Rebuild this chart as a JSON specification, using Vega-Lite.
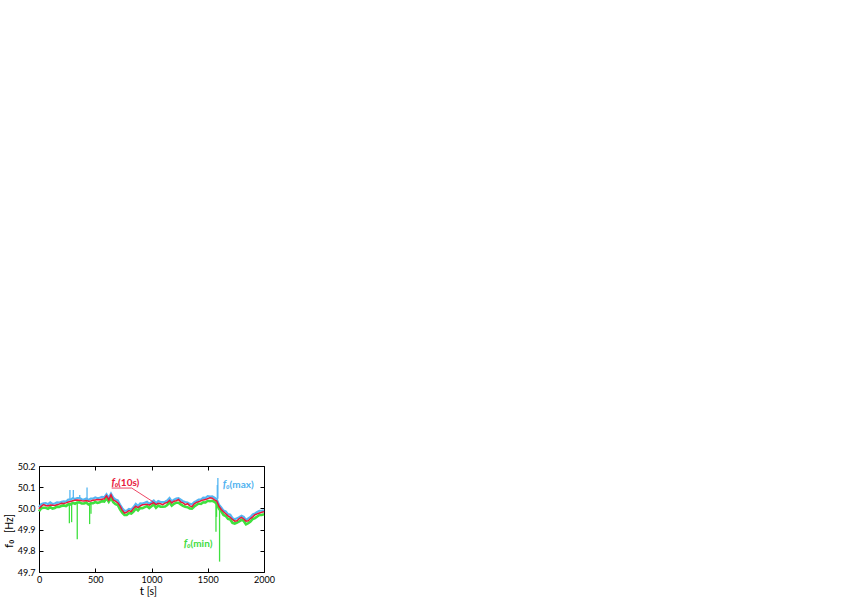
{
  "$schema": "https://vega.github.io/schema/vega-lite/v6.json",
  "width": 225,
  "height": 106,
  "autosize": {"type": "none"},
  "padding": {"left": 39, "top": 466, "right": 583, "bottom": 27},
  "background": "white",
  "config": {
    "view": {"stroke": "#000", "strokeWidth": 1},
    "axis": {"labelFont": "Lato", "labelFontSize": 9, "labelColor": "#000", "tickColor": "#000", "domain": false, "grid": false, "tickSize": -4, "labelPadding": 9, "labelFlush": false},
    "text": {"font": "Lato"}
  },
  "datasets": {
    "avg": [
      {"t":0,"f":49.998},{"t":20,"f":50.010},{"t":40,"f":50.018},{"t":60,"f":50.014},{"t":80,"f":50.012},{"t":100,"f":50.016},{"t":120,"f":50.015},{"t":140,"f":50.014},{"t":160,"f":50.017},{"t":180,"f":50.020},
      {"t":200,"f":50.024},{"t":220,"f":50.023},{"t":240,"f":50.026},{"t":260,"f":50.030},{"t":280,"f":50.033},{"t":300,"f":50.036},{"t":320,"f":50.038},{"t":340,"f":50.040},{"t":360,"f":50.038},{"t":380,"f":50.036},
      {"t":400,"f":50.035},{"t":420,"f":50.037},{"t":440,"f":50.034},{"t":460,"f":50.035},{"t":480,"f":50.038},{"t":500,"f":50.040},{"t":520,"f":50.042},{"t":540,"f":50.041},{"t":560,"f":50.043},{"t":580,"f":50.045},
      {"t":600,"f":50.060},{"t":620,"f":50.040},{"t":640,"f":50.064},{"t":660,"f":50.040},{"t":680,"f":50.034},{"t":700,"f":50.026},{"t":720,"f":50.012},{"t":740,"f":49.992},{"t":760,"f":49.978},{"t":780,"f":49.982},
      {"t":800,"f":49.990},{"t":820,"f":49.985},{"t":840,"f":50.000},{"t":860,"f":50.010},{"t":880,"f":50.004},{"t":900,"f":50.012},{"t":920,"f":50.017},{"t":940,"f":50.018},{"t":960,"f":50.020},{"t":980,"f":50.015},
      {"t":1000,"f":50.022},{"t":1020,"f":50.027},{"t":1040,"f":50.018},{"t":1060,"f":50.024},{"t":1080,"f":50.022},{"t":1100,"f":50.018},{"t":1120,"f":50.025},{"t":1140,"f":50.028},{"t":1160,"f":50.038},{"t":1180,"f":50.026},
      {"t":1200,"f":50.034},{"t":1220,"f":50.036},{"t":1240,"f":50.042},{"t":1260,"f":50.030},{"t":1280,"f":50.026},{"t":1300,"f":50.018},{"t":1320,"f":50.022},{"t":1340,"f":50.012},{"t":1360,"f":50.008},{"t":1380,"f":50.022},
      {"t":1400,"f":50.028},{"t":1420,"f":50.032},{"t":1440,"f":50.036},{"t":1460,"f":50.040},{"t":1480,"f":50.042},{"t":1500,"f":50.046},{"t":1520,"f":50.050},{"t":1540,"f":50.048},{"t":1560,"f":50.040},{"t":1580,"f":50.035},
      {"t":1600,"f":50.010},{"t":1620,"f":49.995},{"t":1640,"f":49.984},{"t":1660,"f":49.975},{"t":1680,"f":49.965},{"t":1700,"f":49.958},{"t":1720,"f":49.948},{"t":1740,"f":49.940},{"t":1760,"f":49.942},{"t":1780,"f":49.952},
      {"t":1800,"f":49.958},{"t":1820,"f":49.950},{"t":1840,"f":49.940},{"t":1860,"f":49.942},{"t":1880,"f":49.952},{"t":1900,"f":49.960},{"t":1920,"f":49.970},{"t":1940,"f":49.974},{"t":1960,"f":49.978},{"t":1980,"f":49.982},
      {"t":2000,"f":49.984}
    ],
    "mx": [
      {"t":0,"f":50.005},{"t":20,"f":50.020},{"t":40,"f":50.024},{"t":60,"f":50.025},{"t":80,"f":50.020},{"t":100,"f":50.028},{"t":120,"f":50.021},{"t":140,"f":50.023},{"t":160,"f":50.028},{"t":180,"f":50.027},
      {"t":200,"f":50.031},{"t":220,"f":50.033},{"t":240,"f":50.032},{"t":260,"f":50.041},{"t":280,"f":50.041},{"t":300,"f":50.048},{"t":320,"f":50.044},{"t":340,"f":50.049},{"t":360,"f":50.049},{"t":380,"f":50.043},
      {"t":400,"f":50.042},{"t":420,"f":50.047},{"t":440,"f":50.040},{"t":460,"f":50.046},{"t":480,"f":50.046},{"t":500,"f":50.052},{"t":520,"f":50.048},{"t":540,"f":50.050},{"t":560,"f":50.054},{"t":580,"f":50.052},
      {"t":600,"f":50.067},{"t":620,"f":50.050},{"t":640,"f":50.070},{"t":660,"f":50.051},{"t":680,"f":50.042},{"t":700,"f":50.038},{"t":720,"f":50.018},{"t":740,"f":50.001},{"t":760,"f":49.989},{"t":780,"f":49.989},
      {"t":800,"f":49.997},{"t":820,"f":49.995},{"t":840,"f":50.006},{"t":860,"f":50.021},{"t":880,"f":50.012},{"t":900,"f":50.024},{"t":920,"f":50.023},{"t":940,"f":50.027},{"t":960,"f":50.031},{"t":980,"f":50.022},
      {"t":1000,"f":50.029},{"t":1020,"f":50.037},{"t":1040,"f":50.024},{"t":1060,"f":50.035},{"t":1080,"f":50.030},{"t":1100,"f":50.030},{"t":1120,"f":50.031},{"t":1140,"f":50.037},{"t":1160,"f":50.049},{"t":1180,"f":50.033},
      {"t":1200,"f":50.041},{"t":1220,"f":50.046},{"t":1240,"f":50.048},{"t":1260,"f":50.041},{"t":1280,"f":50.034},{"t":1300,"f":50.030},{"t":1320,"f":50.028},{"t":1340,"f":50.021},{"t":1360,"f":50.019},{"t":1380,"f":50.029},
      {"t":1400,"f":50.035},{"t":1420,"f":50.042},{"t":1440,"f":50.042},{"t":1460,"f":50.051},{"t":1480,"f":50.050},{"t":1500,"f":50.058},{"t":1520,"f":50.056},{"t":1540,"f":50.057},{"t":1560,"f":50.051},{"t":1580,"f":50.042},
      {"t":1600,"f":50.017},{"t":1620,"f":50.005},{"t":1640,"f":49.990},{"t":1660,"f":49.986},{"t":1680,"f":49.973},{"t":1700,"f":49.970},{"t":1720,"f":49.954},{"t":1740,"f":49.949},{"t":1760,"f":49.953},{"t":1780,"f":49.959},
      {"t":1800,"f":49.965},{"t":1820,"f":49.960},{"t":1840,"f":49.946},{"t":1860,"f":49.953},{"t":1880,"f":49.960},{"t":1900,"f":49.972},{"t":1920,"f":49.976},{"t":1940,"f":49.983},{"t":1960,"f":49.989},{"t":1980,"f":49.989},
      {"t":2000,"f":49.991}
    ],
    "mn": [
      {"t":0,"f":49.986},{"t":20,"f":50.001},{"t":40,"f":50.003},{"t":60,"f":50.003},{"t":80,"f":49.998},{"t":100,"f":50.006},{"t":120,"f":49.999},{"t":140,"f":50.002},{"t":160,"f":50.008},{"t":180,"f":50.007},
      {"t":200,"f":50.012},{"t":220,"f":50.014},{"t":240,"f":50.011},{"t":260,"f":50.019},{"t":280,"f":50.019},{"t":300,"f":50.026},{"t":320,"f":50.022},{"t":340,"f":50.028},{"t":360,"f":50.029},{"t":380,"f":50.023},
      {"t":400,"f":50.023},{"t":420,"f":50.028},{"t":440,"f":50.019},{"t":460,"f":50.024},{"t":480,"f":50.024},{"t":500,"f":50.030},{"t":520,"f":50.026},{"t":540,"f":50.029},{"t":560,"f":50.034},{"t":580,"f":50.032},
      {"t":600,"f":50.048},{"t":620,"f":50.031},{"t":640,"f":50.049},{"t":660,"f":50.029},{"t":680,"f":50.020},{"t":700,"f":50.016},{"t":720,"f":49.996},{"t":740,"f":49.980},{"t":760,"f":49.969},{"t":780,"f":49.969},
      {"t":800,"f":49.978},{"t":820,"f":49.976},{"t":840,"f":49.985},{"t":860,"f":49.999},{"t":880,"f":49.990},{"t":900,"f":50.002},{"t":920,"f":50.001},{"t":940,"f":50.006},{"t":960,"f":50.011},{"t":980,"f":50.002},
      {"t":1000,"f":50.010},{"t":1020,"f":50.018},{"t":1040,"f":50.003},{"t":1060,"f":50.013},{"t":1080,"f":50.008},{"t":1100,"f":50.008},{"t":1120,"f":50.009},{"t":1140,"f":50.016},{"t":1160,"f":50.029},{"t":1180,"f":50.013},
      {"t":1200,"f":50.022},{"t":1220,"f":50.027},{"t":1240,"f":50.027},{"t":1260,"f":50.019},{"t":1280,"f":50.012},{"t":1300,"f":50.008},{"t":1320,"f":50.006},{"t":1340,"f":50.000},{"t":1360,"f":49.999},{"t":1380,"f":50.009},
      {"t":1400,"f":50.016},{"t":1420,"f":50.023},{"t":1440,"f":50.021},{"t":1460,"f":50.029},{"t":1480,"f":50.028},{"t":1500,"f":50.036},{"t":1520,"f":50.034},{"t":1540,"f":50.036},{"t":1560,"f":50.031},{"t":1580,"f":50.022},
      {"t":1600,"f":49.998},{"t":1620,"f":49.986},{"t":1640,"f":49.969},{"t":1660,"f":49.964},{"t":1680,"f":49.951},{"t":1700,"f":49.948},{"t":1720,"f":49.932},{"t":1740,"f":49.928},{"t":1760,"f":49.933},{"t":1780,"f":49.939},
      {"t":1800,"f":49.946},{"t":1820,"f":49.941},{"t":1840,"f":49.925},{"t":1860,"f":49.931},{"t":1880,"f":49.938},{"t":1900,"f":49.950},{"t":1920,"f":49.954},{"t":1940,"f":49.962},{"t":1960,"f":49.969},{"t":1980,"f":49.969},
      {"t":2000,"f":49.972}
    ],
    "mxspk": [
      {"t":275,"lo":50.041,"hi":50.087},{"t":305,"lo":50.046,"hi":50.087},{"t":362,"lo":50.049,"hi":50.063},
      {"t":427,"lo":50.045,"hi":50.098},{"t":1585,"lo":50.045,"hi":50.110},{"t":1590,"lo":50.045,"hi":50.143}
    ],
    "mnspk": [
      {"t":270,"lo":49.930,"hi":50.016},{"t":290,"lo":49.935,"hi":50.020},{"t":340,"lo":49.855,"hi":50.028},
      {"t":450,"lo":49.926,"hi":50.022},{"t":462,"lo":49.975,"hi":50.022},{"t":1573,"lo":49.890,"hi":50.025},
      {"t":1578,"lo":49.960,"hi":50.025},{"t":1605,"lo":49.749,"hi":49.996}
    ],
    "leader": [
      {"t":646,"f":50.096},{"t":824,"f":50.096},{"t":1017,"f":50.030}
    ],
    "symb": [
      {"t":644,"f":50.104,"txt":"f₀","series":"10s"},
      {"t":1633,"f":50.098,"txt":"f₀","series":"max"},
      {"t":1286,"f":49.820,"txt":"f₀","series":"min"}
    ],
    "rest": [
      {"t":703,"f":50.104,"txt":"(10s)","series":"10s"},
      {"t":1694,"f":50.098,"txt":"(max)","series":"max"},
      {"t":1347,"f":49.820,"txt":"(min)","series":"min"}
    ],
    "ytitle": [
      {"t":-268,"f":49.813,"txt":"f₀","part":"sym"},
      {"t":-262,"f":49.884,"txt":"[Hz]","part":"unit"}
    ],
    "xtitle": [
      {"t":895,"f":49.590,"txt":"t","part":"sym"},
      {"t":957,"f":49.590,"txt":"[s]","part":"unit"}
    ]
  },
  "layer": [
    {
      "data": {"name": "mn"},
      "mark": {"type": "line", "color": "#3fe03f", "strokeWidth": 2.6},
      "encoding": {
        "x": {"field": "t", "type": "quantitative", "scale": {"domain": [0, 2000], "nice": false}, "axis": {"orient": "bottom", "values": [0, 500, 1000, 1500, 2000], "format": "d", "title": null, "labelPadding": 7}},
        "y": {"field": "f", "type": "quantitative", "scale": {"domain": [49.7, 50.2], "nice": false, "zero": false}, "axis": {"orient": "left", "values": [49.7, 49.8, 49.9, 50.0, 50.1, 50.2], "format": ".1f", "title": null, "labelPadding": 8}}
      }
    },
    {
      "data": {"name": "mnspk"},
      "mark": {"type": "rule", "color": "#3fe03f", "strokeWidth": 1.3},
      "encoding": {
        "x": {"field": "t", "type": "quantitative", "axis": null},
        "y": {"field": "lo", "type": "quantitative", "axis": null},
        "y2": {"field": "hi"}
      }
    },
    {
      "data": {"name": "mx"},
      "mark": {"type": "line", "color": "#55b6f2", "strokeWidth": 2.2},
      "encoding": {
        "x": {"field": "t", "type": "quantitative", "axis": {"orient": "top", "values": [0, 500, 1000, 1500, 2000], "labels": false, "title": null}},
        "y": {"field": "f", "type": "quantitative", "axis": {"orient": "right", "values": [49.7, 49.8, 49.9, 50.0, 50.1, 50.2], "labels": false, "title": null}}
      }
    },
    {
      "data": {"name": "mxspk"},
      "mark": {"type": "rule", "color": "#55b6f2", "strokeWidth": 1.3},
      "encoding": {
        "x": {"field": "t", "type": "quantitative", "axis": null},
        "y": {"field": "lo", "type": "quantitative", "axis": null},
        "y2": {"field": "hi"}
      }
    },
    {
      "data": {"name": "avg"},
      "mark": {"type": "line", "color": "#e8173c", "strokeWidth": 1.5},
      "encoding": {
        "x": {"field": "t", "type": "quantitative", "axis": null},
        "y": {"field": "f", "type": "quantitative", "axis": null}
      }
    },
    {
      "data": {"name": "leader"},
      "mark": {"type": "line", "color": "#e8173c", "strokeWidth": 0.8},
      "encoding": {
        "x": {"field": "t", "type": "quantitative", "axis": null},
        "y": {"field": "f", "type": "quantitative", "axis": null}
      }
    },
    {
      "data": {"name": "symb"},
      "mark": {"type": "text", "align": "left", "baseline": "alphabetic", "fontSize": 10.5, "fontWeight": "bold", "fontStyle": "italic"},
      "encoding": {
        "x": {"field": "t", "type": "quantitative", "axis": null},
        "y": {"field": "f", "type": "quantitative", "axis": null},
        "text": {"field": "txt"},
        "color": {"field": "series", "type": "nominal", "scale": {"domain": ["10s", "max", "min"], "range": ["#e8173c", "#4fb2f0", "#3fdc3f"]}, "legend": null}
      }
    },
    {
      "data": {"name": "rest"},
      "mark": {"type": "text", "align": "left", "baseline": "alphabetic", "fontSize": 10, "fontWeight": "bold"},
      "encoding": {
        "x": {"field": "t", "type": "quantitative", "axis": null},
        "y": {"field": "f", "type": "quantitative", "axis": null},
        "text": {"field": "txt"},
        "color": {"field": "series", "type": "nominal", "legend": null}
      }
    },
    {
      "data": {"name": "ytitle"},
      "mark": {"type": "text", "align": "left", "baseline": "middle", "angle": 270},
      "encoding": {
        "x": {"field": "t", "type": "quantitative", "axis": null},
        "y": {"field": "f", "type": "quantitative", "axis": null},
        "text": {"field": "txt"},
        "size": {"field": "part", "type": "nominal", "scale": {"domain": ["sym", "unit"], "range": [12, 10.5]}, "legend": null},
        "fontWeight": {"field": "part", "type": "nominal", "scale": {"domain": ["sym", "unit"], "range": ["bold", "normal"]}, "legend": null},
        "fontStyle": {"condition": {"test": "datum.part === 'sym'", "value": "italic"}, "value": "normal"}
      }
    },
    {
      "data": {"name": "xtitle"},
      "mark": {"type": "text", "align": "left", "baseline": "alphabetic"},
      "encoding": {
        "x": {"field": "t", "type": "quantitative", "axis": null},
        "y": {"field": "f", "type": "quantitative", "axis": null},
        "text": {"field": "txt"},
        "size": {"field": "part", "type": "nominal", "scale": {"domain": ["sym", "unit"], "range": [11, 10]}, "legend": null},
        "fontWeight": {"field": "part", "type": "nominal", "scale": {"domain": ["sym", "unit"], "range": ["bold", "normal"]}, "legend": null},
        "fontStyle": {"condition": {"test": "datum.part === 'sym'", "value": "italic"}, "value": "normal"}
      }
    }
  ],
  "resolve": {"axis": {"x": "independent", "y": "independent"}}
}
